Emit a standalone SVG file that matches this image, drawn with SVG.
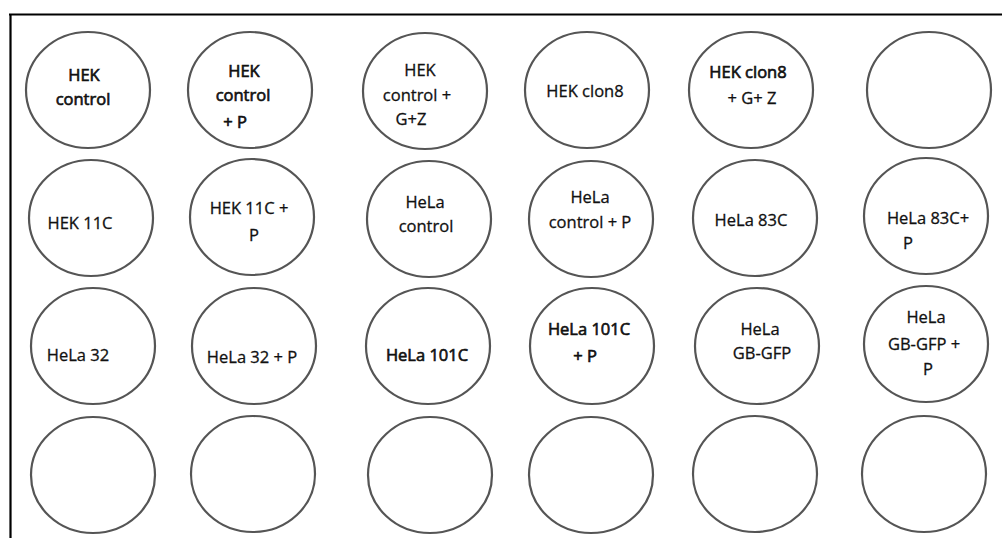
<svg xmlns="http://www.w3.org/2000/svg" width="1002" height="538" viewBox="0 0 1002 538">
<style>
.w{fill:#fff;stroke:#555;stroke-width:2.2}
text{font-family:"Open Sans","Liberation Sans",sans-serif;font-size:16.5px;fill:#111;stroke:#111;stroke-width:0.3;text-anchor:middle}
.b{stroke-width:0.65}
.f{stroke:#000;stroke-width:2.2;fill:none}
</style>
<rect width="1002" height="538" fill="#fff"/>
<g id="frame"><path class="f" d="M9,14.5 H1002 M10.5,14 V538"/></g>
<g id="connectors"></g>
<g id="r1c1"><ellipse class="w" cx="88" cy="90" rx="62" ry="58"/><text class="b" x="84" y="81">HEK</text><text class="b" x="83" y="105">control</text></g>
<g id="r1c2"><ellipse class="w" cx="250" cy="90" rx="62" ry="58"/><text class="b" x="244" y="77">HEK</text><text class="b" x="243" y="101">control</text><text class="b" x="235" y="128">+ P</text></g>
<g id="r1c3"><ellipse class="w" cx="425" cy="91" rx="62" ry="58"/><text x="420" y="76">HEK</text><text x="417" y="101">control +</text><text x="411" y="125">G+Z</text></g>
<g id="r1c4"><ellipse class="w" cx="587" cy="90" rx="62" ry="58"/><text x="585" y="97">HEK clon8</text></g>
<g id="r1c5"><ellipse class="w" cx="751" cy="90" rx="62" ry="58"/><text class="b" x="748" y="78">HEK clon8</text><text x="752" y="104">+ G+ Z</text></g>
<g id="r1c6"><ellipse class="w" cx="929" cy="90" rx="62" ry="58"/></g>
<g id="r2c1"><ellipse class="w" cx="91" cy="218" rx="62" ry="58"/><text x="80" y="229">HEK 11C</text></g>
<g id="r2c2"><ellipse class="w" cx="252" cy="217" rx="62" ry="58"/><text x="249" y="214">HEK 11C +</text><text x="254" y="241">P</text></g>
<g id="r2c3"><ellipse class="w" cx="429" cy="219" rx="62" ry="58"/><text x="425" y="208">HeLa</text><text x="426" y="232">control</text></g>
<g id="r2c4"><ellipse class="w" cx="591" cy="219" rx="62" ry="58"/><text x="590" y="203">HeLa</text><text x="590" y="228">control + P</text></g>
<g id="r2c5"><ellipse class="w" cx="755" cy="218" rx="62" ry="58"/><text x="751" y="226">HeLa 83C</text></g>
<g id="r2c6"><ellipse class="w" cx="926" cy="216" rx="62" ry="58"/><text x="928" y="224">HeLa 83C+</text><text x="908" y="249">P</text></g>
<g id="r3c1"><ellipse class="w" cx="93" cy="346" rx="62" ry="58"/><text x="78" y="361">HeLa 32</text></g>
<g id="r3c2"><ellipse class="w" cx="254" cy="346" rx="62" ry="58"/><text x="252" y="363">HeLa 32 + P</text></g>
<g id="r3c3"><ellipse class="w" cx="428" cy="346" rx="62" ry="58"/><text class="b" x="427" y="361">HeLa 101C</text></g>
<g id="r3c4"><ellipse class="w" cx="592" cy="346" rx="62" ry="58"/><text class="b" x="589" y="335">HeLa 101C</text><text class="b" x="585" y="362">+ P</text></g>
<g id="r3c5"><ellipse class="w" cx="757" cy="346" rx="62" ry="58"/><text x="760" y="335">HeLa</text><text x="762" y="359">GB-GFP</text></g>
<g id="r3c6"><ellipse class="w" cx="926" cy="344" rx="62" ry="58"/><text x="926" y="323">HeLa</text><text x="924" y="350">GB-GFP +</text><text x="928" y="375">P</text></g>
<g id="r4c1"><ellipse class="w" cx="93" cy="475" rx="62" ry="58"/></g>
<g id="r4c2"><ellipse class="w" cx="253" cy="474" rx="62" ry="58"/></g>
<g id="r4c3"><ellipse class="w" cx="430" cy="475" rx="62" ry="58"/></g>
<g id="r4c4"><ellipse class="w" cx="591" cy="475" rx="62" ry="58"/></g>
<g id="r4c5"><ellipse class="w" cx="755" cy="474" rx="62" ry="58"/></g>
<g id="r4c6"><ellipse class="w" cx="924" cy="474" rx="62" ry="58"/></g>
</svg>
